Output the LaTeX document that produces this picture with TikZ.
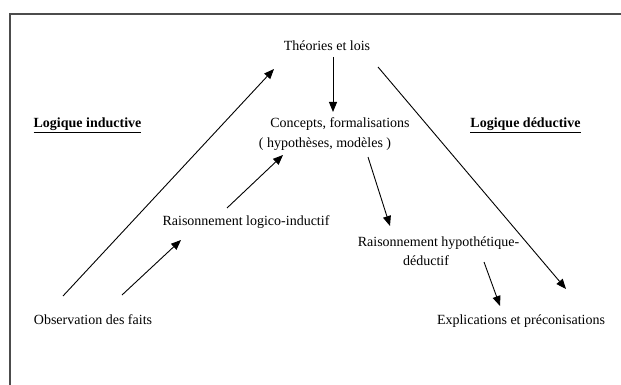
\documentclass[tikz,border=0pt]{standalone}
\usepackage{fontspec}
\setmainfont{Liberation Serif}
\usetikzlibrary{arrows.meta}
\begin{document}
\begin{tikzpicture}[x=1pt,y=-1pt,
  txt/.style={anchor=base,inner sep=0pt,font=\fontsize{14}{16}\selectfont},
  ttl/.style={txt,font=\fontsize{14}{16}\selectfont\bfseries},
  arr/.style={line width=0.9pt,-{Triangle[length=10pt,width=8pt]}},
  ln/.style={line width=0.9pt},
  frame/.style={line width=1.8pt,black!70}]
\useasboundingbox (0,0) rectangle (621,385);
% frame (top and left edges)
\coordinate (fA) at (10,385);
\coordinate (fB) at (10,14);
\coordinate (fC) at (621,14);
\draw[frame] (fA) -- (fB) -- (fC);
% texts
\node[txt] (theo) at (327,51) {Théories et lois};
\node[txt] (conc) at (340,128) {Concepts, formalisations};
\node[txt] (hypm) at (325,147) {( hypothèses, modèles )};
\node[ttl] (lind) at (87.5,128) {\underline{Logique inductive}};
\node[ttl] (lded) at (525.5,128) {\underline{Logique déductive}};
\node[txt] (rli) at (246,225) {Raisonnement logico-inductif};
\node[txt] (rhd) at (438.5,246) {Raisonnement hypothétique-};
\node[txt] (ded) at (426,265) {déductif};
\node[txt] (obs) at (93,324) {Observation des faits};
\node[txt] (expl) at (521,324) {Explications et préconisations};
% arrow end points
\coordinate (a1s) at (63,296);  \coordinate (a1e) at (274,69);
\coordinate (a2s) at (122,295); \coordinate (a2e) at (181,240);
\coordinate (a3s) at (227,208); \coordinate (a3e) at (283,155);
\coordinate (a4s) at (333,57);  \coordinate (a4e) at (333,112);
\coordinate (a5s) at (368,157); \coordinate (a5e) at (390,226);
\coordinate (a6s) at (378,67);  \coordinate (a6e) at (566,289);
\coordinate (a7s) at (484,262); \coordinate (a7e) at (500,306);
% connectors
\draw[arr] (a1s) -- (a1e);
\draw[arr] (a2s) -- (a2e);
\draw[arr] (a3s) -- (a3e);
\draw[arr] (a4s) -- (a4e);
\draw[arr] (a5s) -- (a5e);
\draw[arr] (a6s) -- (a6e);
\draw[arr] (a7s) -- (a7e);
\end{tikzpicture}
\end{document}
